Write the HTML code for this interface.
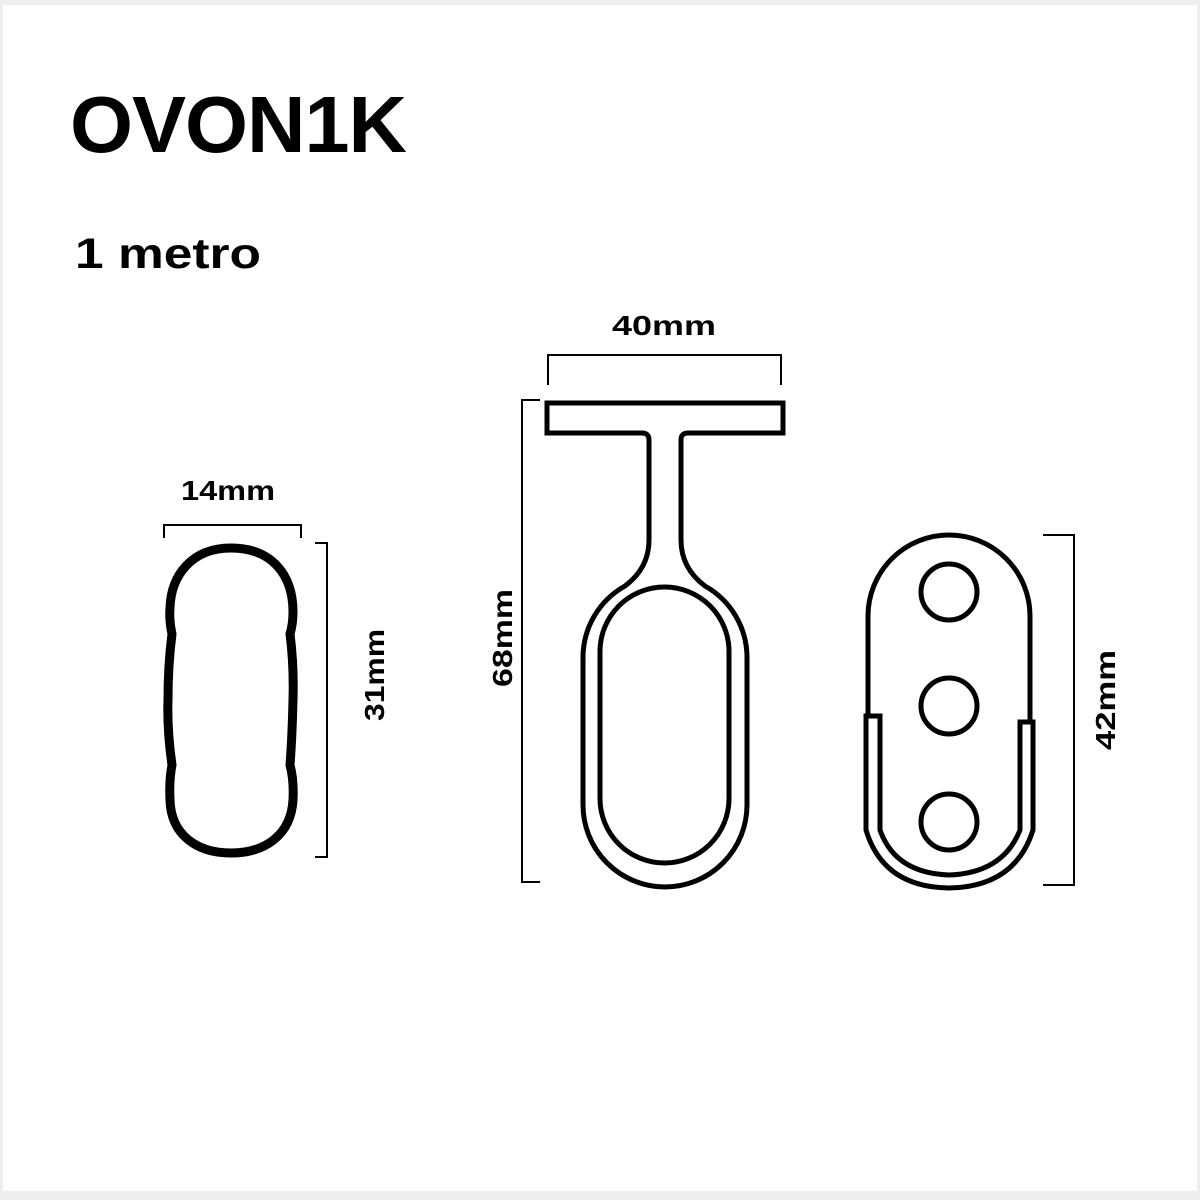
<!DOCTYPE html>
<html><head><meta charset="utf-8"><style>
html,body{margin:0;padding:0;background:#fff;}
svg{display:block;}
text{font-family:"Liberation Sans",sans-serif;font-weight:bold;fill:#000;}
</style></head><body>
<svg width="1200" height="1200" viewBox="0 0 1200 1200" xmlns="http://www.w3.org/2000/svg">
<rect x="0" y="0" width="1200" height="1200" fill="#eeeeee"/>
<rect x="3" y="5" width="1194" height="1186" fill="#ffffff"/>
<text x="70" y="152" font-size="80" letter-spacing="-1" textLength="336" lengthAdjust="spacingAndGlyphs">OVON1K</text>
<text x="75" y="268" font-size="43" textLength="186" lengthAdjust="spacingAndGlyphs">1 metro</text>

<g fill="none" stroke="#000" stroke-width="2">
<path d="M164,538 V525 H301 V538"/>
<path d="M315,543 H327 V857 H315"/>
<path d="M548,385 V355 H781 V385"/>
<path d="M540,400 H522 V882 H540"/>
<path d="M1043,535 H1074 V885 H1043"/>
</g>
<text x="228" y="500" font-size="28" text-anchor="middle" textLength="94" lengthAdjust="spacingAndGlyphs">14mm</text>
<text x="664" y="335" font-size="28" text-anchor="middle" textLength="104" lengthAdjust="spacingAndGlyphs">40mm</text>
<text transform="translate(384,675) rotate(-90)" font-size="28" text-anchor="middle" textLength="92" lengthAdjust="spacingAndGlyphs">31mm</text>
<text transform="translate(512,638) rotate(-90)" font-size="28" text-anchor="middle" textLength="98" lengthAdjust="spacingAndGlyphs">68mm</text>
<text transform="translate(1115,700) rotate(-90)" font-size="28" text-anchor="middle" textLength="100" lengthAdjust="spacingAndGlyphs">42mm</text>

<path d="M231,548 C272,548 293,575 293,612 Q293,624 290,634 Q294,665 293,700 Q292,740 290,765 Q294,780 293,800 C291,835 265,853 231,853 C197,853 171,835 170,800 Q169,780 172,765 Q167,730 168,700 Q168,665 172,634 Q169,620 170,608 C171,575 192,548 231,548Z" fill="none" stroke="#000" stroke-width="9"/>

<g fill="none" stroke="#000" stroke-width="5">
<path d="M681,540 Q681,568 705,586 A82,82 0 0 1 747,658 V805 A82,82 0 0 1 583,805 V658 A82,82 0 0 1 625,586 Q649,568 649,540 V440 Q649,433 642,433 H547 V403 H783 V433 H688 Q681,433 681,440 Z"/>
<rect x="600" y="587" width="129" height="276" rx="64.5"/>
</g>

<g fill="none" stroke="#000" stroke-width="5">
<path d="M868,718 V616 A81,81 0 0 1 1030,616 V722"/>
<path d="M866,716 H880 V830 Q895,873 949,875 Q1003,873 1020,830 V722 H1033 V830 Q1015,887 949,888 Q883,887 866,830 Z"/>
<circle cx="949" cy="592" r="28"/>
<circle cx="949" cy="706" r="28"/>
<circle cx="949" cy="822" r="28"/>
</g>
</svg>
</body></html>
